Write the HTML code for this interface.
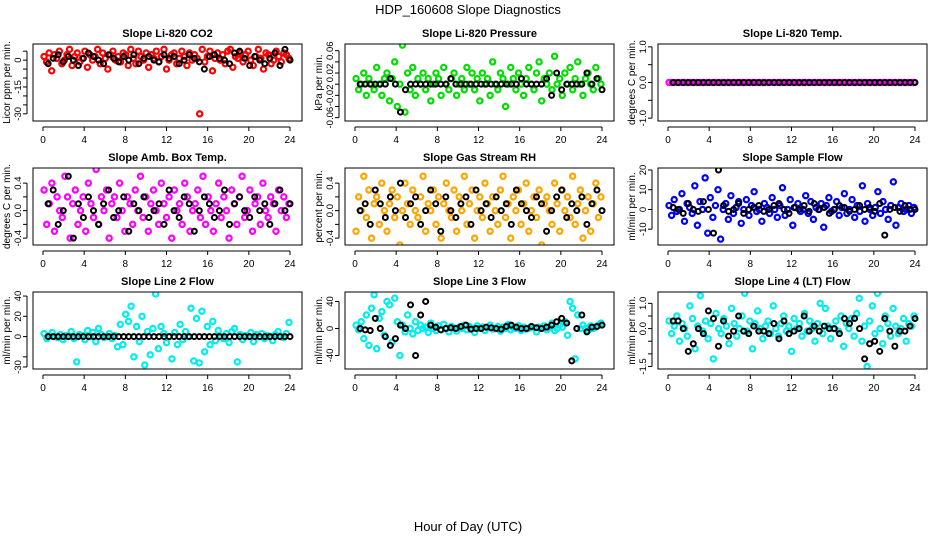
<!DOCTYPE html>
<html><head><meta charset="utf-8"><style>
body{margin:0;background:#fff;font-family:"Liberation Sans",sans-serif}
svg text{font-family:"Liberation Sans",sans-serif}
</style></head><body>
<svg id="c" width="936" height="540" xmlns="http://www.w3.org/2000/svg">
<text x="468" y="14" text-anchor="middle" font-size="13">HDP_160608  Slope Diagnostics</text>
<text x="468" y="531" text-anchor="middle" font-size="13">Hour of Day (UTC)</text>
</svg>
<script>
const xTicks=[0,4,8,12,16,20,24];
const titles=["Slope Li-820 CO2","Slope Li-820 Pressure","Slope Li-820 Temp.","Slope Amb. Box Temp.","Slope Gas Stream RH","Slope Sample Flow","Slope Line 2 Flow","Slope Line 3 Flow","Slope Line 4 (LT) Flow"];
const yTitles=["Licor ppm per min.","kPa per min.","degrees C per min.","degrees C per min.","percent per min.","ml/min per min.","ml/min per min.","ml/min per min.","ml/min per min."];
const colors=["#ff0000","#00dd00","#ff00ff","#ff00ff","#ffa500","#0000ff","#00eeee","#00eeee","#00eeee"];
const yRanges=[[-34,9],[-0.066,0.072],[-1.08,1.08],[-0.5,0.62],[-0.5,0.62],[-18,21],[-32,44],[-60,54],[-1.6,1.45]];
const yTicks=[[5,0,-5,-10,-15,-20,-25,-30],[0.06,0.04,0.02,0,-0.02,-0.04,-0.06],[1,0.5,0,-0.5,-1],[0.4,0.2,0,-0.2,-0.4],[0.4,0.2,0,-0.2,-0.4],[20,10,0,-10],[40,20,0,-20,-30],[40,0,-40],[1,0.5,0,-0.5,-1,-1.5]];
const yLabels=[["","0","","","-15","","","-30"],["0.06","","0.02","","-0.02","","-0.06"],["1.0","","0.0","","-1.0"],["0.4","","0.0","","-0.4"],["0.4","","0.0","","-0.4"],["20","10","0","-10"],["40","20","0","","-30"],["40","0","-40"],["1.0","","0.0","","","-1.5"]];
const s1=[2,-1,4,-6,3,1,5,-2,0,3,6,-3,2,4,-1,1,5,-4,3,0,2,6,-2,4,1,-5,3,5,0,2,-1,4,3,-3,6,1,-2,5,2,0,4,-4,3,1,5,-1,2,6,-5,0,3,4,-2,1,5,2,-3,4,0,3,1,-30,6,-1,2,5,-6,1,4,0,3,-2,5,6,-4,2,1,4,-1,3,5,0,-3,2,6,1,-5,4,3,-2,0,5,2,-1,4,3,1];
const k1=[-2,1,3,-1,2,0,-3,1,4,2,0,-2,3,1,-1,2,0,3,-2,1,2,0,-1,3,1,2,-2,0,3,1,-1,-5,2,3,1,0,-2,4,5,1,-3,2,0,-2,1,4,-3,6,0];
const s2=[0.01,-0.01,0.00,0.02,-0.02,0.01,0.00,-0.01,0.03,0.00,-0.02,0.01,0.02,-0.03,0.01,0.04,-0.04,0.00,0.07,-0.05,0.02,-0.01,0.03,-0.02,0.01,0.00,0.02,-0.01,0.01,-0.03,0.00,0.02,0.01,-0.02,0.03,0.00,-0.01,0.01,0.02,-0.02,0.00,0.01,-0.01,0.03,0.00,0.02,-0.01,0.01,-0.03,0.02,0.00,0.01,-0.02,0.04,0.00,-0.01,0.02,0.01,-0.04,0.00,0.03,0.01,-0.01,0.02,0.00,-0.02,0.01,0.03,0.00,-0.01,0.02,0.04,-0.03,0.01,0.00,0.02,-0.01,0.05,0.00,0.01,-0.02,0.02,0.00,0.03,-0.01,0.01,0.04,0.00,-0.02,0.01,0.02,0.00,-0.01,0.03,0.01,0.00];
const k2=[0,0,0,0,0,0,0.01,0,-0.05,-0.01,0,0,0,0,0,0,0,0,0.01,0,0,0,0,0,0,0,0,0,0,0,0,0,0.01,0,0,0,0,0.01,-0.02,0.02,-0.01,0,0,0,0,0.02,0,0.01,-0.01];
const s3=[0,0,0,0,0,0,0,0,0,0,0,0,0,0,0,0,0,0,0,0,0,0,0,0,0,0,0,0,0,0,0,0,0,0,0,0,0,0,0,0,0,0,0,0,0,0,0,0,0,0,0,0,0,0,0,0,0,0,0,0,0,0,0,0,0,0,0,0,0,0,0,0,0,0,0,0,0,0,0,0];
const k3=[0,0,0,0,0,0,0,0,0,0,0,0,0,0,0,0,0,0,0,0,0,0,0,0,0,0,0,0,0,0,0,0,0,0,0,0,0,0,0,0,0,0,0,0,0,0,0,0,0];
const s4=[0.3,-0.2,0.1,0.4,-0.3,0.2,0.0,-0.1,0.5,0.2,-0.4,0.1,0.3,-0.2,0.0,0.2,-0.3,0.4,0.1,-0.1,0.6,-0.2,0.2,0.0,0.3,-0.4,0.1,0.2,-0.1,0.4,0.0,-0.3,0.2,0.1,-0.2,0.3,0.0,0.5,-0.1,0.2,-0.3,0.1,0.3,0.0,-0.2,0.4,0.1,-0.1,0.2,-0.4,0.3,0.0,0.1,-0.2,0.4,0.2,-0.3,0.0,0.1,0.3,-0.1,0.5,-0.2,0.2,0.0,-0.3,0.1,0.4,-0.1,0.2,0.0,-0.4,0.3,0.1,-0.2,0.2,0.5,-0.1,0.0,0.3,-0.3,0.1,0.2,-0.2,0.4,0.0,-0.1,0.2,0.1,-0.3,0.3,0.0,0.2,-0.1,0.1];
const k4=[0.1,0.3,-0.2,0.0,0.5,-0.4,0.1,-0.1,0.2,0.0,-0.2,0.1,0.3,-0.1,0.0,0.2,-0.3,0.1,0.0,0.2,-0.1,0.0,0.1,-0.2,0.3,0.0,-0.1,0.2,0.1,-0.3,0.0,0.2,0.1,-0.1,0.0,0.3,-0.2,0.1,0.2,0.0,-0.1,0.2,0.0,0.1,-0.2,0.1,0.3,0.0,0.1];
const s5=[-0.3,0.2,0.0,0.5,-0.1,0.3,-0.4,0.1,0.2,-0.2,0.4,0.0,-0.3,0.1,0.3,-0.1,0.2,-0.5,0.0,0.4,0.1,-0.2,0.3,0.0,-0.1,0.2,0.5,-0.3,0.1,0.0,0.3,-0.2,0.2,-0.4,0.1,0.4,0.0,-0.1,0.3,-0.3,0.2,0.0,0.5,-0.2,0.1,0.3,-0.4,0.0,0.2,-0.1,0.4,0.1,-0.3,0.2,0.0,-0.2,0.3,0.5,-0.1,0.1,-0.4,0.2,0.0,0.3,-0.2,0.1,0.4,-0.3,0.0,0.2,-0.1,0.3,-0.5,0.1,0.2,0.0,-0.2,0.4,0.1,-0.3,0.3,0.0,0.2,-0.1,0.5,-0.2,0.1,0.3,-0.4,0.0,0.2,-0.3,0.1,0.4,-0.1,0.2];
const k5=[0.0,0.1,-0.2,0.3,0.1,-0.1,0.2,0.0,0.4,-0.1,0.1,0.2,-0.2,0.0,0.3,0.1,-0.3,0.2,0.0,-0.1,0.1,0.2,-0.2,0.3,0.0,0.1,-0.1,0.2,0.0,0.1,-0.2,0.3,0.1,0.0,-0.1,0.2,0.1,-0.3,0.0,0.2,0.3,-0.1,0.1,0.0,0.2,-0.2,0.1,0.3,0.0];
const s6=[2,-3,5,-1,0,8,-6,3,1,-2,12,-8,4,0,16,-12,6,-4,2,10,-15,0,3,-5,7,-2,1,4,-7,0,5,-3,2,9,-1,0,-6,3,1,-2,6,0,-4,2,11,-3,0,5,-8,1,3,-1,0,7,-2,4,-5,1,0,3,-9,2,6,-1,0,4,-3,1,8,-2,0,5,-4,2,-1,12,-6,3,0,-3,1,9,-2,4,0,-5,2,14,-8,1,3,-1,0,2,-2,1];
const k6=[1,0,-2,3,0,-1,4,0,-12,20,2,-1,0,3,-2,0,1,2,-1,0,2,3,0,-2,1,0,2,-1,3,0,1,-2,0,2,1,-1,0,2,0,1,-1,3,-13,0,1,-1,2,0,0];
const s7=[3,-2,1,4,0,-1,2,-3,1,0,5,-2,-25,2,1,-3,6,0,4,-5,8,2,-1,0,3,-2,1,-10,12,-8,22,15,30,-20,10,-5,20,-28,5,-18,8,42,-12,10,3,-6,0,-22,4,-8,12,-3,5,0,28,-24,18,-26,25,-15,10,-8,15,-4,6,0,-2,3,-6,5,8,-25,2,-3,1,0,4,-5,2,0,3,-2,1,0,-4,2,5,0,-1,3,14];
const k7=[0,0,0,0,0,0,0,0,0,0,0,0,0,0,0,0,0,0,0,0,0,0,0,0,0,0,0,0,0,0,0,0,0,0,0,0,0,0,0,0,0,0,0,0,0,0,0,0,0];
const s8=[5,-2,10,-15,20,-25,30,50,-30,15,25,-10,40,35,-20,45,10,-40,5,-5,20,0,-8,10,-3,5,0,2,-6,8,0,-3,4,-2,6,0,-5,3,1,-4,2,0,5,-2,3,0,-6,4,0,2,-3,1,5,-1,0,3,-4,2,0,6,-2,1,0,4,-3,2,-1,0,3,1,-5,2,0,4,-2,1,8,-3,0,5,2,10,-10,40,30,-45,20,0,5,0,-3,4,0,2,5,8];
const k8=[0,-2,-3,15,0,-12,-25,-15,5,0,35,-40,20,40,5,2,-2,0,1,0,3,5,-1,0,0,2,1,0,-1,3,5,2,0,0,3,1,0,2,5,10,15,8,-48,0,20,-5,2,3,5];
const s9=[0.3,-0.2,0.1,0.5,-0.5,0.2,0.0,-0.3,0.9,0.4,-0.8,0.1,1.3,-0.1,0.3,-0.4,0.2,-1.2,0.6,0.0,-0.2,0.4,0.1,-0.6,0.8,0.2,-0.3,0.0,0.5,1.4,-0.1,0.3,-0.8,0.2,0.7,0.0,-0.4,0.1,0.3,-0.2,0.9,0.0,-0.3,0.2,0.5,-0.1,0.1,-0.9,0.4,0.0,0.2,-0.3,0.6,-0.1,0.3,0.0,-0.5,0.2,1.0,-0.2,0.8,0.1,-0.4,0.0,0.3,-0.1,0.5,-0.7,0.2,0.0,0.4,-0.3,0.6,1.2,-0.5,0.1,-1.5,0.3,0.9,-0.2,1.4,0.0,-0.6,0.5,0.2,-0.3,0.8,0.1,-0.2,0.0,0.4,-0.5,0.2,0.1,0.5];
const k9=[0.3,0.3,0.0,-0.9,-0.6,0.0,-0.2,0.7,0.4,-0.7,0.3,-0.3,-0.1,0.5,-0.1,-0.2,0.1,-0.1,-0.1,-0.2,0.2,-0.4,0.3,-0.2,-0.1,0.0,0.5,-0.1,0.1,-0.1,0.1,0.0,0.0,-0.2,0.4,0.2,0.4,0.0,-1.2,-0.6,-0.5,-0.9,0.4,-0.1,-0.7,-0.1,-0.1,0.1,0.4];
const series=[s1,s2,s3,s4,s5,s6,s7,s8,s9];
const blacks=[k1,k2,k3,k4,k5,k6,k7,k8,k9];

const NS="http://www.w3.org/2000/svg";
const svg=document.getElementById('c');
function mk(tag,attrs,parent){const e=document.createElementNS(NS,tag);for(const k in attrs)e.setAttribute(k,attrs[k]);(parent||svg).appendChild(e);return e;}
const colX=[33,345,658], rowY=[44,168,292], W=269, H=77;
for(let p=0;p<9;p++){
  const L=colX[p%3], T=rowY[Math.floor(p/3)];
  const g=mk('g',{});
  
  
  const xs=h=>L+10+h*(W-22)/24;
  const [y0,y1]=yRanges[p];
  const ys=v=>T+H-(v-y0)/(y1-y0)*H;
  const t=mk('text',{x:L+W/2,y:T-7,'text-anchor':'middle','font-size':11,'font-weight':'bold'},g);
  t.textContent=titles[p];
  
  
  const yt=mk('text',{x:0,y:0,'text-anchor':'middle','font-size':10,transform:`translate(${L-23},${T+H/2}) rotate(-90)`},g);
  yt.textContent=yTitles[p];
  
  
  mk('line',{x1:xs(0),x2:xs(24),y1:T+H+6,y2:T+H+6,stroke:'#000'},g);
  xTicks.forEach(v=>{
    mk('line',{x1:xs(v),x2:xs(v),y1:T+H+6,y2:T+H+10,stroke:'#000'},g);
    const tx=mk('text',{x:xs(v),y:T+H+22,'text-anchor':'middle','font-size':10},g);
    tx.textContent=v;
    
    
  });
  const tk=yTicks[p];
  mk('line',{x1:L-6,x2:L-6,y1:ys(Math.max(...tk)),y2:ys(Math.min(...tk)),stroke:'#000'},g);
  tk.forEach((v,i)=>{
    mk('line',{x1:L-10,x2:L-6,y1:ys(v),y2:ys(v),stroke:'#000'},g);
    if(yLabels[p][i]){
      const ty=mk('text',{x:0,y:0,'text-anchor':'middle','font-size':9.5,transform:`translate(${L-12},${ys(v)}) rotate(-90)`},g);
      ty.textContent=yLabels[p][i];
      
      
    }
  });
  const clip=mk('clipPath',{id:'cl'+p},g);
  mk('rect',{x:L,y:T,width:W,height:H},clip);
  const pg=mk('g',{'clip-path':`url(#cl${p})`},g);
  const s=series[p];
  s.forEach((v,i)=>{
    const c=mk('circle',{cx:xs(0.1+i*23.8/(s.length-1)),cy:ys(v),r:2.6,fill:'none',stroke:colors[p],'stroke-width':2.2},pg);
    
    
  });
  const b=blacks[p];
  b.forEach((v,i)=>{
    const c=mk('circle',{cx:xs(0.5+i*23.5/(b.length-1)),cy:ys(v),r:2.5,fill:'none',stroke:'#000','stroke-width':2},pg);
    
    
  });
  const box=mk('rect',{x:L,y:T,width:W,height:H,fill:'none',stroke:'#000'},g);
  
  
}
</script>
</body></html>
